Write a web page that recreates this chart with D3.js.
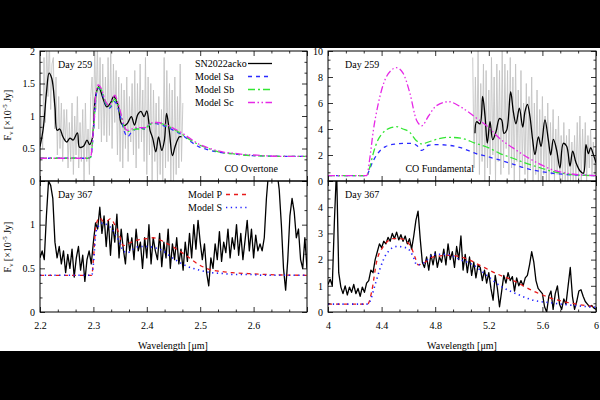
<!DOCTYPE html>
<html><head><meta charset="utf-8">
<script src="https://cdn.jsdelivr.net/npm/d3@7"></script>
<style>body{margin:0;background:#000}svg{display:block}</style>
</head><body><svg id="c" width="600" height="400"></svg>
<script>
// ---------------- DATA ----------------
// Day 259, CO overtone (2.2-2.7 um)
const ovObs259Range = [2.200, 2.4675];
const ovObs259Raw = [0.3,1.0,0.5,1.9,0.9,2.1,1.3,2.2,1.1,1.8,
 1.9,0.8,1.6,0.4,1.3,0.5,1.2,0.3,1.1,0.6,
 1.1,0.2,0.9,0.3,1.2,0.1,1.0,0.4,1.3,0.2,
 0.9,0.3,1.1,0.0,1.2,0.3,0.8,0.1,1.3,1.6,
 0.9,2.0,1.1,2.1,0.8,1.9,0.6,1.8,0.7,1.6,
 0.6,1.9,0.7,2.0,0.5,1.8,0.9,1.7,0.4,1.6,
 0.3,1.5,0.2,1.4,0.5,1.6,0.3,1.3,0.6,1.5,
 0.4,1.7,0.2,1.5,0.5,1.8,0.6,1.4,0.3,1.9,
 0.1,1.6,0.4,1.5,0.0,1.4,0.3,1.2,0.0,1.3,
 0.1,1.1,0.0,1.9,0.2,1.7,0.3,1.5,0.0,1.4,
 0.0,1.6,0.1,1.3,0.2,1.8,0.3,1.2];
const ovSmooth259Wave = [2.200,2.206,2.212,2.217,2.222,2.228,2.232,2.237,2.243,2.250,2.256,2.262,2.270,2.274,2.282,2.288,2.293,2.298,2.304,2.310,2.318,2.325,2.332,2.338,2.346,2.352,2.358,2.364,2.371,2.377,2.383,2.389,2.395,2.400,2.406,2.411,2.417,2.422,2.428,2.433,2.437,2.442,2.448,2.453,2.461,2.465];
const ovSmooth259Flux = [0.53,0.80,1.35,1.66,1.58,1.14,0.78,0.80,0.68,0.60,0.66,0.63,0.74,0.52,0.54,0.63,0.56,0.66,1.30,1.45,1.27,1.14,1.20,1.30,1.17,0.89,0.85,0.89,0.99,0.86,1.02,1.07,0.99,1.08,0.78,0.66,0.45,0.68,0.47,0.63,1.04,0.78,0.39,0.53,0.68,0.68];
const ovModelWave = [2.20,2.29,2.295,2.300,2.305,2.309,2.315,2.322,2.330,2.336,2.340,2.346,2.352,2.358,2.364,2.372,2.380,2.388,2.396,2.404,2.412,2.420,2.435,2.450,2.466,2.480,2.497,2.515,2.530,2.545,2.560,2.580,2.600,2.620,2.650,2.700];
const ovModelSa = [0.35,0.35,0.37,0.75,1.30,1.43,1.38,1.20,1.12,1.18,1.22,1.12,0.95,0.76,0.68,0.76,0.80,0.82,0.80,0.86,0.89,0.88,0.84,0.78,0.71,0.62,0.53,0.48,0.45,0.43,0.42,0.40,0.39,0.385,0.38,0.38];
const ovModelSb = [0.35,0.35,0.37,0.78,1.32,1.44,1.40,1.22,1.14,1.22,1.26,1.16,1.00,0.82,0.76,0.78,0.80,0.80,0.80,0.86,0.89,0.89,0.86,0.80,0.72,0.64,0.56,0.50,0.46,0.43,0.42,0.40,0.39,0.385,0.38,0.38];
const ovModelSc = [0.35,0.35,0.37,0.80,1.36,1.48,1.42,1.24,1.16,1.26,1.32,1.20,1.02,0.84,0.78,0.80,0.82,0.82,0.82,0.87,0.90,0.90,0.87,0.81,0.74,0.66,0.57,0.51,0.47,0.44,0.43,0.41,0.40,0.39,0.38,0.38];

// Day 259, CO fundamental (4-6 um)
const fuObs259Range = [5.08, 6.00];
const fuObs259Raw = [9.5,1.0,8.0,2.0,10.0,0.5,7.5,1.5,9.0,0.0,
 8.5,1.0,7.0,0.5,9.5,2.0,8.0,0.0,9.0,1.5,
 8.5,0.5,10.0,1.0,9.0,2.5,8.5,0.5,9.5,1.0,
 8.0,0.0,9.0,1.5,7.0,0.0,8.5,1.0,6.0,0.5,
 7.5,0.0,6.5,1.0,8.0,0.0,6.0,0.5,7.0,0.0,
 5.5,0.0,6.5,0.5,5.0,0.0,6.0,0.0,4.5,0.5,
 5.5,0.0,4.0,0.5,5.0,0.0,3.5,0.0,4.5,0.0,
 3.5,0.0,4.0,0.0,3.0,0.0,3.5,0.0,4.5,0.0,
 5.0,0.0,4.0,0.5,4.5,0.0,3.5,1.0,4.0,0.5,
 3.0,0.5,2.5];
const fuSmooth259Wave = [5.097,5.109,5.134,5.154,5.172,5.189,5.209,5.229,5.254,5.279,5.296,5.313,5.333,5.363,5.383,5.403,5.428,5.453,5.470,5.488,5.507,5.527,5.545,5.570,5.590,5.619,5.644,5.662,5.682,5.706,5.731,5.756,5.781,5.806,5.826,5.851,5.881,5.906,5.925,5.943,5.960,5.980,6.000];
const fuSmooth259Flux = [3.67,4.56,4.4,6.5,4.97,2.92,4.56,3.18,3.8,4.8,4.7,3.67,3.9,6.87,5.33,4.4,5.6,4.15,5.33,5.9,4.97,3.18,2.03,3.4,2.67,4.7,3.18,2.0,3.2,2.4,1.0,2.9,2.67,1.15,2.3,1.4,0.77,0.6,2.8,2.1,2.56,2.05,1.4];
const fuModelWave = [4.00,4.29,4.31,4.34,4.37,4.40,4.43,4.47,4.51,4.56,4.61,4.66,4.70,4.75,4.81,4.90,4.99,5.10,5.20,5.28,5.38,5.48,5.58,5.68,5.78,5.85,5.92,6.00];
const fuModelSa = [0.42,0.42,0.9,1.6,2.1,2.45,2.65,2.8,2.85,2.9,2.9,2.75,2.35,2.75,2.8,2.75,2.56,2.13,1.85,1.62,1.30,0.97,0.75,0.59,0.50,0.46,0.43,0.42];
const fuModelSb = [0.42,0.42,1.0,2.2,3.1,3.6,3.9,4.1,4.18,4.0,3.75,3.1,2.85,3.0,3.2,3.36,3.3,2.9,2.55,2.13,1.75,1.36,1.02,0.72,0.55,0.46,0.43,0.42];
const fuModelSc = [0.42,0.42,1.6,4.0,5.7,7.0,7.9,8.5,8.72,8.3,6.8,4.7,4.25,5.0,5.8,6.1,5.7,4.9,4.1,3.28,2.55,1.87,1.3,0.85,0.6,0.5,0.45,0.42];

// Day 367, CO overtone
const ovObs367Range = [2.200, 2.700];
const ovObs367Flux = [0.62,0.70,0.60,1.10,1.50,1.45,1.30,0.80,0.62,0.75,
 0.55,0.70,0.45,0.66,0.50,0.72,0.40,0.62,0.75,0.48,
 0.65,0.35,0.60,0.70,0.55,0.80,1.02,0.95,1.20,0.90,
 1.10,0.75,1.05,0.65,1.00,0.80,1.12,0.62,0.95,0.72,
 0.55,0.90,0.70,0.85,0.60,0.95,0.70,0.80,0.50,0.85,
 0.62,1.00,0.55,0.85,0.70,0.60,0.90,0.52,0.80,0.62,
 0.95,0.50,0.78,0.60,0.85,0.55,0.72,0.48,0.80,0.58,
 0.90,0.62,1.00,0.72,1.05,0.80,0.60,0.78,0.45,0.30,
 0.62,0.50,0.78,0.60,0.92,0.58,0.80,0.68,0.95,0.62,
 0.85,0.72,1.00,0.65,0.90,0.60,0.82,1.05,0.70,0.95,
 0.62,0.88,0.70,0.78,0.70,0.85,1.30,1.60,1.70,1.65,
 1.70,1.60,1.40,1.00,0.50,0.25,0.60,1.10,1.30,1.15,
 0.85,0.95,0.60,0.50,0.85,0.50];
const ovModel367Wave = [2.200,2.297,2.300,2.305,2.312,2.318,2.325,2.332,2.340,2.348,2.356,2.364,2.375,2.386,2.400,2.412,2.430,2.448,2.473,2.498,2.522,2.545,2.560,2.590,2.622,2.700];
const ovModelP = [0.42,0.42,0.60,1.00,1.08,1.04,1.04,1.07,1.00,0.90,0.76,0.78,0.81,0.83,0.84,0.85,0.81,0.75,0.65,0.54,0.48,0.46,0.45,0.44,0.43,0.42];
const ovModelS = [0.42,0.42,0.55,0.92,1.00,1.02,1.00,0.97,0.90,0.81,0.70,0.68,0.72,0.75,0.75,0.74,0.70,0.62,0.53,0.48,0.45,0.44,0.43,0.43,0.42,0.42];

// Day 367, CO fundamental
const fuObs367Range = [4.00, 6.00];
const fuObs367Flux = [1.05,1.25,1.00,3.50,5.50,1.50,0.95,0.70,1.00,0.65,
 0.95,0.75,1.05,0.70,0.90,0.60,0.95,0.75,1.10,1.20,
 1.60,1.50,2.00,2.30,2.60,2.45,2.70,2.60,2.85,2.70,
 3.00,2.80,3.05,2.75,2.95,2.70,2.90,2.60,2.80,2.40,
 2.90,3.50,3.85,2.80,1.90,1.70,2.10,1.60,2.20,1.80,
 2.30,1.70,2.10,1.90,2.40,1.80,2.60,2.00,2.30,1.70,
 2.50,2.00,2.90,1.60,2.20,1.50,2.10,1.40,1.90,1.30,
 1.80,1.70,1.20,1.60,1.10,1.50,0.90,0.45,1.40,0.90,
 0.20,0.80,1.40,1.10,1.50,1.20,1.35,0.80,1.30,1.00,
 1.20,1.00,1.30,1.40,1.80,2.30,1.90,1.20,0.90,0.80,
 0.70,0.20,0.00,0.60,0.80,0.10,0.70,1.00,0.30,0.10,
 0.50,0.30,1.00,1.70,0.60,0.10,0.40,0.80,0.85,0.60,
 0.40,0.30,0.20,0.25,0.15,0.10];
const fuModel367PWave = [4.00,4.29,4.30,4.326,4.363,4.413,4.487,4.537,4.612,4.649,4.674,4.724,4.786,4.910,5.035,5.134,5.259,5.383,5.532,5.682,5.856,6.00];
const fuModelP = [0.30,0.30,0.32,0.78,1.92,2.50,2.80,2.80,2.55,2.10,1.80,1.90,2.10,2.16,2.03,1.78,1.46,1.20,0.80,0.50,0.30,0.20];
const fuModel367SWave = [4.00,4.30,4.313,4.351,4.388,4.438,4.512,4.587,4.637,4.662,4.724,4.786,4.886,4.985,5.085,5.184,5.284,5.408,5.532,5.682,5.831,6.00];
const fuModelS = [0.30,0.30,0.40,1.03,1.65,2.23,2.50,2.45,2.10,1.80,1.90,2.20,2.20,2.00,1.79,1.40,1.00,0.69,0.45,0.34,0.25,0.18];

// Ticks
const ovXTicks = [2.2,2.3,2.4,2.5,2.6,2.7];
const ovXLabels = ["2.2","2.3","2.4","2.5","2.6",""];
const fuXTicks = [4,4.4,4.8,5.2,5.6,6];
const fuXLabels = ["4","4.4","4.8","5.2","5.6","6"];
const y259OvTicks = [0,0.5,1,1.5,2];
const y259OvLabels = ["0","0.5","1","1.5","2"];
const y259FuTicks = [0,2,4,6,8,10];
const y259FuLabels = ["0","2","4","6","8","10"];
const y367OvTicks = [0,0.5,1,1.5];
const y367OvLabels = ["0","0.5","1",""];
const y367FuTicks = [0,1,2,3,4,5];
const y367FuLabels = ["0","1","2","3","4",""];

// legends
const legend259 = ["SN2022acko","Model Sa","Model Sb","Model Sc"];
const legend367 = ["Model P","Model S"];

// ---------------- DRAWING ----------------
const FONT = "'Liberation Serif','Times New Roman',serif";
const svg = d3.select("#c");
svg.append("rect").attr("width",600).attr("height",400).attr("fill","#000");
svg.append("rect").attr("x",0).attr("y",48).attr("width",600).attr("height",303).attr("fill","#fff");

const ST = {
  obsGray:{color:"#c4c4c4", w:0.9},
  obs:{color:"#000", w:1.3},
  Sa:{color:"#2b2bff", w:1.3, dash:"4,4"},
  Sb:{color:"#33e633", w:1.3, dash:"7,3,2,3"},
  Sc:{color:"#e628e6", w:1.3, dash:"7,2.5,1.5,2.5,1.5,2.5"},
  P:{color:"#e81a1a", w:1.3, dash:"4,4"},
  S:{color:"#2020ff", w:1.6, dash:"1.3,3.5"}
};

function rangeWaves(r, n){ const st=(r[1]-r[0])/(n-1); return d3.range(n).map(i=>r[0]+i*st); }
function minors(t){ const out=[]; for(let i=0;i<t.length-1;i++){const s=(t[i+1]-t[i])/3; out.push(t[i]+s,t[i]+2*s);} return out; }

let clipN=0;
function panel(cfg){
  const x = d3.scaleLinear().domain(cfg.xd).range([cfg.x0,cfg.x1]);
  const y = d3.scaleLinear().domain(cfg.yd).range([cfg.y1,cfg.y0]);
  const id = "clip"+(clipN++);
  svg.append("clipPath").attr("id",id).append("rect")
    .attr("x",cfg.x0).attr("y",cfg.y0).attr("width",cfg.x1-cfg.x0).attr("height",cfg.y1-cfg.y0);
  const g = svg.append("g").attr("clip-path",`url(#${id})`);
  cfg.series.forEach(s=>{
    const pts = s.x.map((v,i)=>[v,s.y[i]]);
    const st = s.style;
    g.append("path").datum(pts)
      .attr("d", d3.line().x(d=>x(d[0])).y(d=>y(d[1])).curve(s.curve||d3.curveLinear))
      .attr("fill","none").attr("stroke",st.color).attr("stroke-width",st.w)
      .attr("stroke-dasharray",st.dash||null).attr("stroke-linejoin","round");
  });
  // axes
  const ax = svg.append("g").attr("font-family",FONT);
  const mk = (axis, tr, vals, size, labels, pad)=>{
    const a = axis.tickValues(vals).tickSize(size).tickSizeOuter(0).tickPadding(pad||4)
      .tickFormat(labels ? ((d,i)=>labels[i]) : (()=> ""));
    const gg = ax.append("g").attr("transform",tr).call(a);
    gg.select(".domain").remove();
    gg.selectAll("line").attr("stroke","#000").attr("stroke-width",0.8);
    gg.selectAll("text").attr("font-family",FONT).attr("font-size",10).attr("fill","#000");
    return gg;
  };
  mk(d3.axisBottom(x), `translate(0,${cfg.y1})`, cfg.xTicks, -5, cfg.showX?cfg.xLabels:null, 10);
  mk(d3.axisBottom(x), `translate(0,${cfg.y1})`, minors(cfg.xTicks), -2.5, null);
  mk(d3.axisTop(x), `translate(0,${cfg.y0})`, cfg.xTicks, -5, null);
  mk(d3.axisTop(x), `translate(0,${cfg.y0})`, minors(cfg.xTicks), -2.5, null);
  mk(d3.axisLeft(y), `translate(${cfg.x0},0)`, cfg.yTicks, -5, cfg.yLabels, 5);
  mk(d3.axisLeft(y), `translate(${cfg.x0},0)`, minors(cfg.yTicks), -2.5, null);
  mk(d3.axisRight(y), `translate(${cfg.x1},0)`, cfg.yTicks, -5, null);
  mk(d3.axisRight(y), `translate(${cfg.x1},0)`, minors(cfg.yTicks), -2.5, null);
  svg.append("rect").attr("x",cfg.x0).attr("y",cfg.y0).attr("width",cfg.x1-cfg.x0).attr("height",cfg.y1-cfg.y0)
    .attr("fill","none").attr("stroke","#000").attr("stroke-width",1);
  return {x,y};
}

const smooth = d3.curveCatmullRom.alpha(0.5);
const LX=[40,307], RX=[328,596], TY=[51,181], BY=[181,312];

panel({xd:[2.2,2.7], yd:[0,2], x0:LX[0], x1:LX[1], y0:TY[0], y1:TY[1],
  xTicks:ovXTicks, xLabels:ovXLabels, showX:false, yTicks:y259OvTicks, yLabels:y259OvLabels,
  series:[
    {x:rangeWaves(ovObs259Range, ovObs259Raw.length), y:ovObs259Raw, style:ST.obsGray},
    {x:ovSmooth259Wave, y:ovSmooth259Flux, style:ST.obs, curve:smooth},
    {x:ovModelWave, y:ovModelSa, style:ST.Sa, curve:d3.curveMonotoneX},
    {x:ovModelWave, y:ovModelSb, style:ST.Sb, curve:d3.curveMonotoneX},
    {x:ovModelWave, y:ovModelSc, style:ST.Sc, curve:d3.curveMonotoneX}
  ]});
panel({xd:[4,6], yd:[0,10], x0:RX[0], x1:RX[1], y0:TY[0], y1:TY[1],
  xTicks:fuXTicks, xLabels:fuXLabels, showX:false, yTicks:y259FuTicks, yLabels:y259FuLabels,
  series:[
    {x:rangeWaves(fuObs259Range, fuObs259Raw.length), y:fuObs259Raw, style:ST.obsGray},
    {x:fuSmooth259Wave, y:fuSmooth259Flux, style:ST.obs, curve:smooth},
    {x:fuModelWave, y:fuModelSa, style:ST.Sa, curve:d3.curveMonotoneX},
    {x:fuModelWave, y:fuModelSb, style:ST.Sb, curve:d3.curveMonotoneX},
    {x:fuModelWave, y:fuModelSc, style:ST.Sc, curve:d3.curveMonotoneX}
  ]});
panel({xd:[2.2,2.7], yd:[0,1.5], x0:LX[0], x1:LX[1], y0:BY[0], y1:BY[1],
  xTicks:ovXTicks, xLabels:ovXLabels, showX:true, yTicks:y367OvTicks, yLabels:y367OvLabels,
  series:[
    {x:rangeWaves(ovObs367Range, ovObs367Flux.length), y:ovObs367Flux, style:ST.obs},
    {x:ovModel367Wave, y:ovModelP, style:ST.P, curve:d3.curveMonotoneX},
    {x:ovModel367Wave, y:ovModelS, style:ST.S, curve:d3.curveMonotoneX}
  ]});
panel({xd:[4,6], yd:[0,5], x0:RX[0], x1:RX[1], y0:BY[0], y1:BY[1],
  xTicks:fuXTicks, xLabels:fuXLabels, showX:true, yTicks:y367FuTicks, yLabels:y367FuLabels,
  series:[
    {x:rangeWaves(fuObs367Range, fuObs367Flux.length), y:fuObs367Flux, style:ST.obs},
    {x:fuModel367PWave, y:fuModelP, style:ST.P, curve:d3.curveMonotoneX},
    {x:fuModel367SWave, y:fuModelS, style:ST.S, curve:d3.curveMonotoneX}
  ]});

// texts
function txt(x,y,s,anchor){ return svg.append("text").attr("x",x).attr("y",y).text(s)
  .attr("font-family",FONT).attr("font-size",10).attr("fill","#000").attr("text-anchor",anchor||"start"); }
txt(58,68,"Day 259"); txt(345,68,"Day 259");
txt(58,198,"Day 367"); txt(345,198,"Day 367");
txt(278,172,"CO Overtone","end");
txt(474,172,"CO Fundamental","end");
txt(173,349,"Wavelength [\u03bcm]","middle");
txt(462,349,"Wavelength [\u03bcm]","middle");

// legends
const leg259Styles=[ST.obs,ST.Sa,ST.Sb,ST.Sc];
legend259.forEach((s,i)=>{
  const yy = 67+i*13;
  txt(195,yy,s);
  svg.append("line").attr("x1",248).attr("x2",272).attr("y1",yy-3.5).attr("y2",yy-3.5)
    .attr("stroke",leg259Styles[i].color).attr("stroke-width",leg259Styles[i].w).attr("stroke-dasharray",leg259Styles[i].dash||null);
});
const leg367Styles=[ST.P,ST.S];
legend367.forEach((s,i)=>{
  const yy = 198+i*13;
  txt(188,yy,s);
  svg.append("line").attr("x1",226).attr("x2",250).attr("y1",yy-3.5).attr("y2",yy-3.5)
    .attr("stroke",leg367Styles[i].color).attr("stroke-width",leg367Styles[i].w).attr("stroke-dasharray",leg367Styles[i].dash||null);
});

// y labels
function ylab(cx,cy){
  const t = svg.append("text").attr("transform",`translate(${cx},${cy}) rotate(-90)`)
    .attr("font-family",FONT).attr("font-size",10).attr("text-anchor","middle").attr("fill","#000");
  t.append("tspan").text("F");
  t.append("tspan").text("\u03bd").attr("font-size",7).attr("dy",2);
  t.append("tspan").text(" [\u00d710").attr("dy",-2);
  t.append("tspan").text("-5").attr("font-size",7).attr("dy",-4);
  t.append("tspan").text(" Jy]").attr("dy",4);
}
ylab(11,115); ylab(11,247);
</script></body></html>
